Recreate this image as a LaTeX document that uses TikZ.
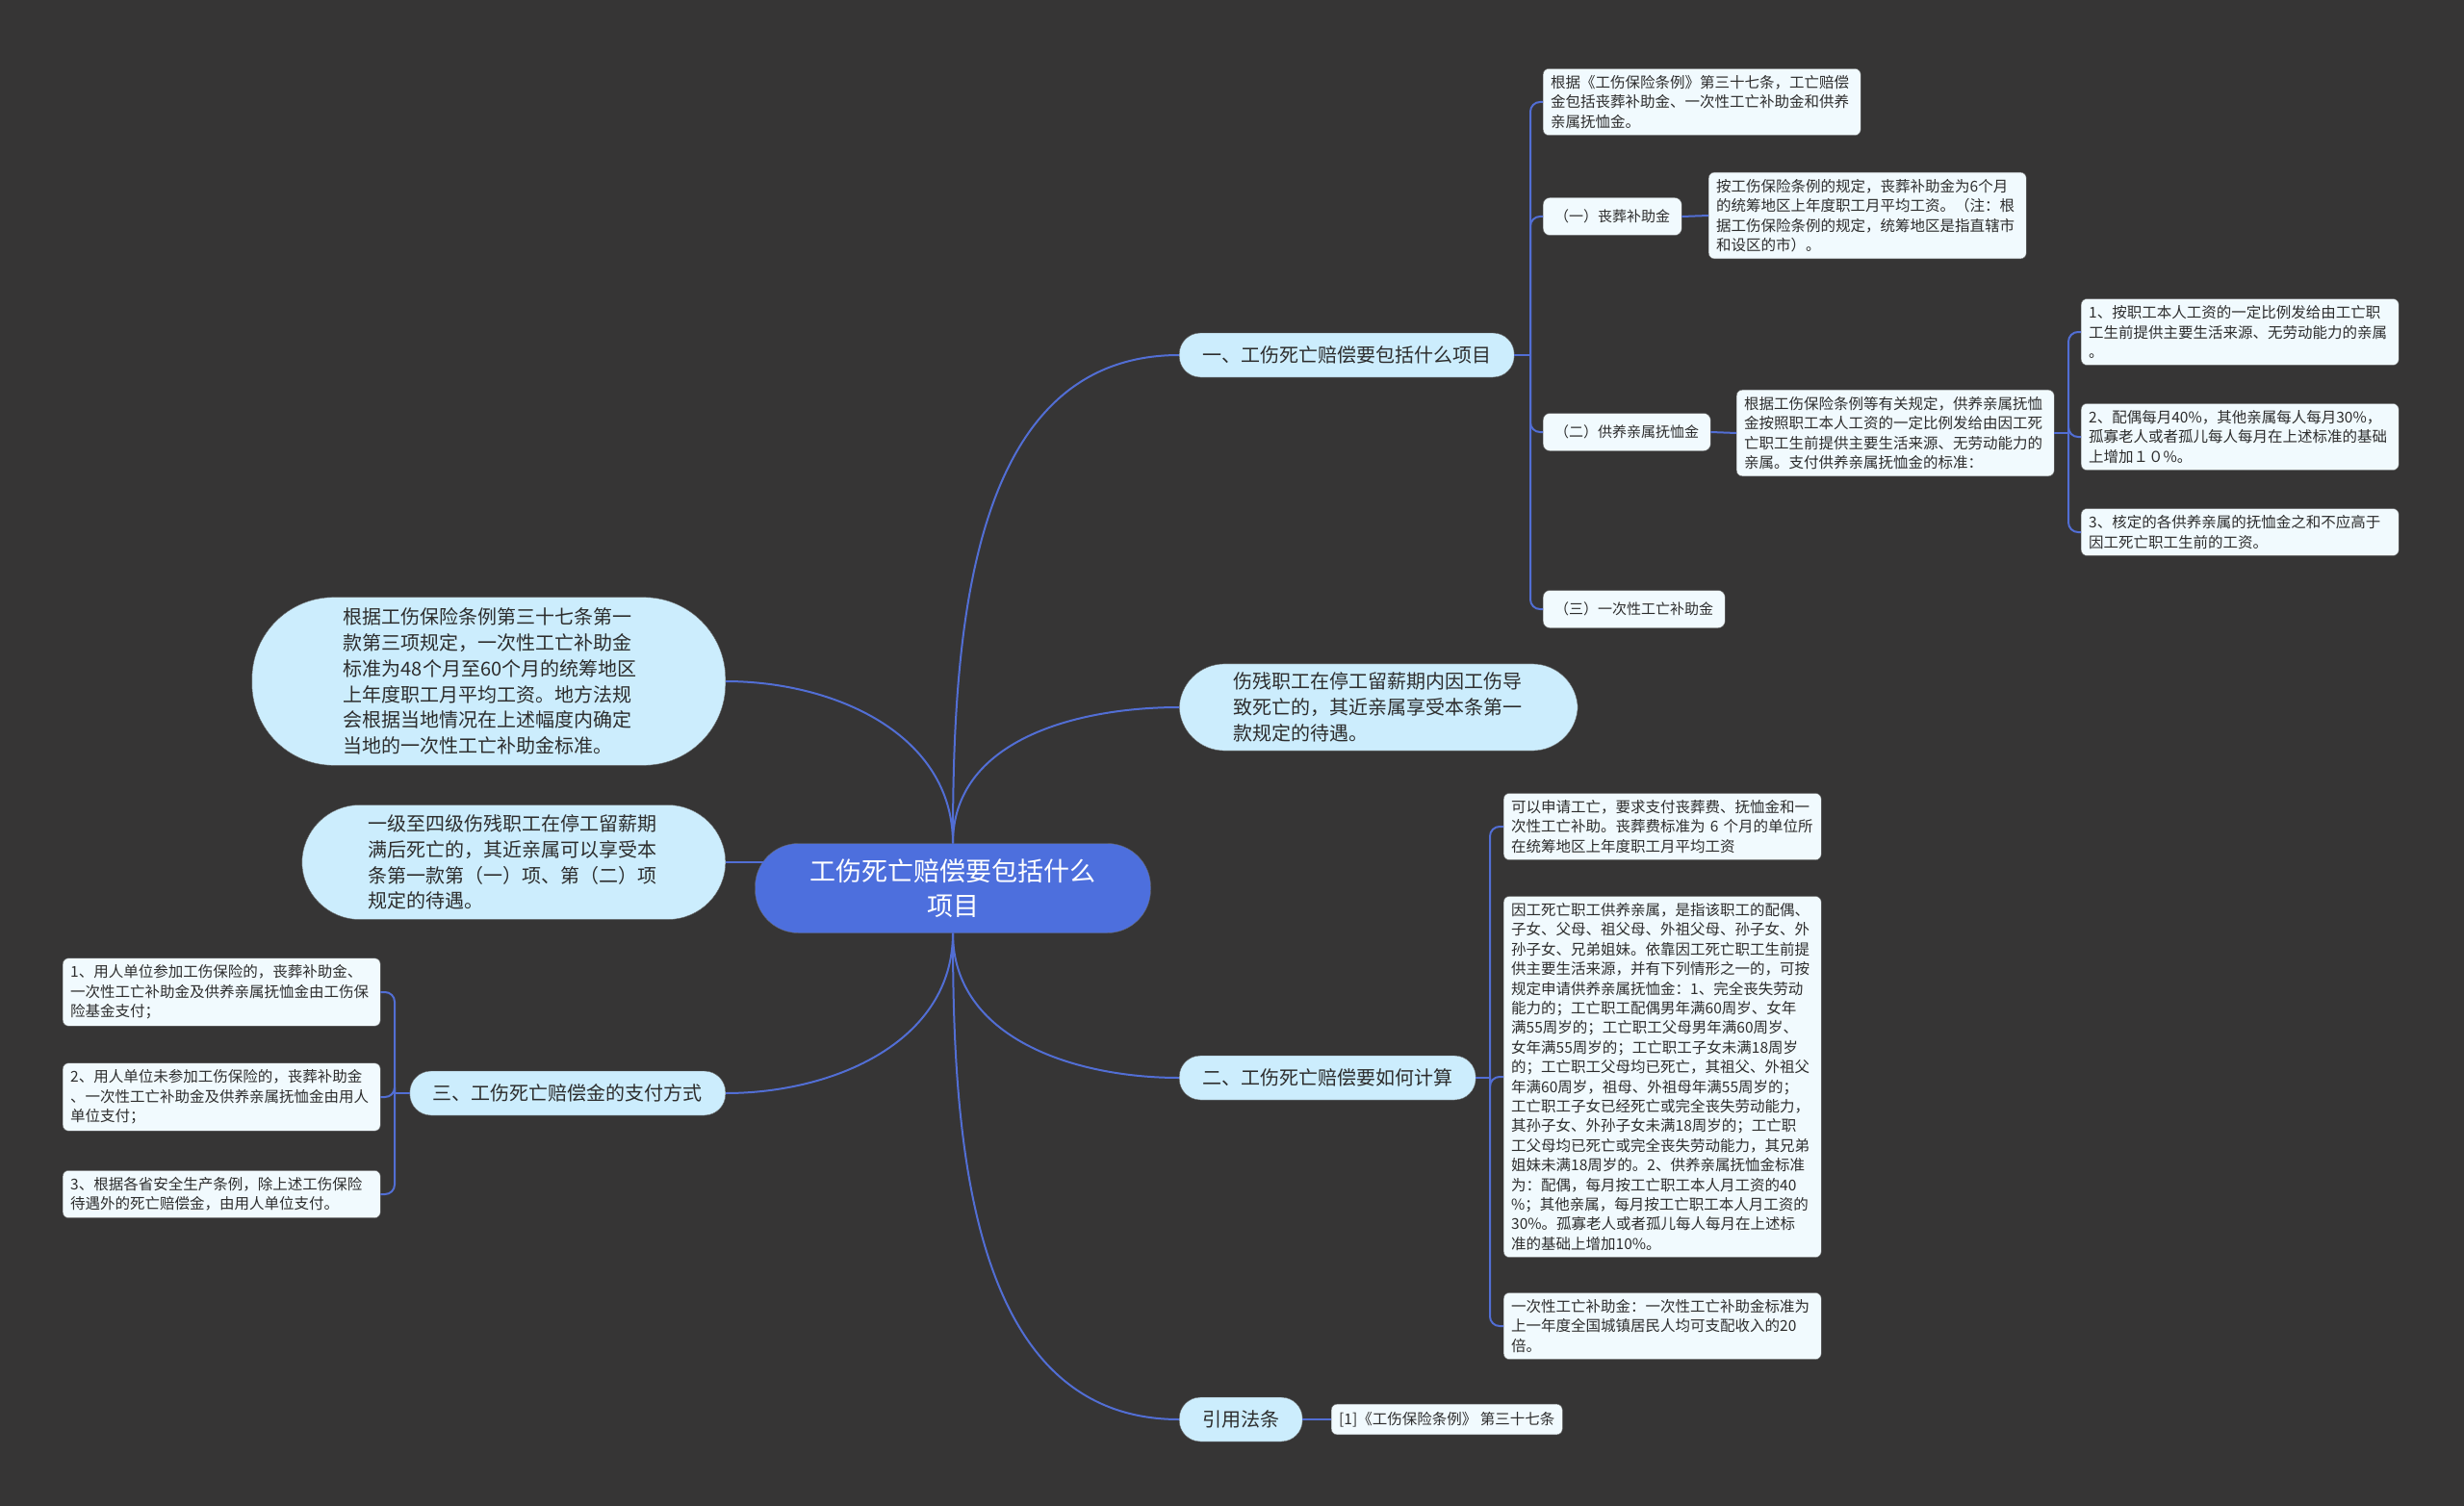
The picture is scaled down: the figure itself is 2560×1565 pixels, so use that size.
\documentclass[tikz,border=0pt]{standalone}
\usepackage{fontspec}
\setmainfont{Noto Sans CJK SC}
\usepackage{xcolor}
\usepackage{tikz}
\usetikzlibrary{positioning}

\definecolor{bgc}{RGB}{54,53,53}
\definecolor{rootc}{RGB}{77,111,221}
\definecolor{branchc}{RGB}{204,237,253}
\definecolor{leafc}{RGB}{241,250,254}
\definecolor{linec}{RGB}{82,110,212}
\definecolor{txtc}{RGB}{45,45,45}

\begin{document}
\begin{tikzpicture}[
    x=1pt, y=1pt,
    root/.style={rectangle, rounded corners=45pt, fill=rootc, draw=black!60, text=white, align=center, minimum width=411pt, minimum height=93pt, font=\fontsize{27}{36}\selectfont},
    branch/.style={rectangle, rounded corners=22pt, fill=branchc, draw=black!60, text=txtc, minimum height=46pt, inner xsep=24pt, font=\fontsize{20}{27}\selectfont},
    bubble/.style={rectangle, fill=branchc, draw=black!60, text=txtc, align=left, font=\fontsize{20}{26.8}\selectfont},
    sub/.style={rectangle, rounded corners=7pt, fill=leafc, draw=black!60, text=txtc, minimum height=39pt, inner xsep=12pt, font=\fontsize{15}{20}\selectfont},
    leaf/.style={rectangle, rounded corners=6pt, fill=leafc, draw=black!60, text=txtc, text width=314pt, align=left, inner xsep=8pt, inner ysep=7pt, font=\fontsize{15.5}{20.4}\selectfont},
    link/.style={draw=linec, line width=2pt},
    bracket/.style={draw=linec, line width=2pt, rounded corners=10pt}
]

% Background
\fill[bgc] (0,0) rectangle (2560,-1565);
\useasboundingbox (0,0) rectangle (2560,-1565);

% Root
\node[root] (root) at (990,-923) {工伤死亡赔偿要包括什么\\项目};

% Right branches
\node[branch, anchor=west] (items) at (1225,-369) {一、工伤死亡赔偿要包括什么项目};
\node[bubble, anchor=west, rounded corners=47pt, text width=302pt, inner xsep=56pt, inner ysep=9pt] (disab) at (1225,-735) {伤残职工在停工留薪期内因工伤导\\致死亡的，其近亲属享受本条第一\\款规定的待遇。};
\node[branch, anchor=west] (calc) at (1225,-1120) {二、工伤死亡赔偿要如何计算};
\node[branch, anchor=west] (law) at (1225,-1475) {引用法条};

% Left branches
\node[bubble, anchor=east, rounded corners=85pt, text width=302pt, inner xsep=95pt, inner ysep=11pt] (lump) at (754,-708) {根据工伤保险条例第三十七条第一\\款第三项规定，一次性工亡补助金\\标准为48个月至60个月的统筹地区\\上年度职工月平均工资。地方法规\\会根据当地情况在上述幅度内确定\\当地的一次性工亡补助金标准。};
\node[bubble, anchor=east, rounded corners=60pt, text width=302pt, inner xsep=69pt, inner ysep=10pt] (grade) at (754,-896) {一级至四级伤残职工在停工留薪期\\满后死亡的，其近亲属可以享受本\\条第一款第（一）项、第（二）项\\规定的待遇。};
\node[branch, anchor=east] (pay) at (754,-1136) {三、工伤死亡赔偿金的支付方式};

% Items: children
\node[leaf, anchor=west] (i0) at (1603,-106) {根据《工伤保险条例》第三十七条，工亡赔偿\\金包括丧葬补助金、一次性工亡补助金和供养\\亲属抚恤金。};
\node[sub, anchor=west] (i1) at (1603,-225) {（一）丧葬补助金};
\node[leaf, anchor=west] (i1a) at (1775,-224) {按工伤保险条例的规定，丧葬补助金为6个月\\的统筹地区上年度职工月平均工资。（注：根\\据工伤保险条例的规定，统筹地区是指直辖市\\和设区的市）。};
\node[sub, anchor=west] (i2) at (1603,-449) {（二）供养亲属抚恤金};
\node[leaf, anchor=west] (i2a) at (1804,-450) {根据工伤保险条例等有关规定，供养亲属抚恤\\金按照职工本人工资的一定比例发给由因工死\\亡职工生前提供主要生活来源、无劳动能力的\\亲属。支付供养亲属抚恤金的标准：};
\node[sub, anchor=west] (i3) at (1603,-633) {（三）一次性工亡补助金};

% Pension standards
\node[leaf, anchor=west] (s1) at (2162,-345) {1、按职工本人工资的一定比例发给由工亡职\\工生前提供主要生活来源、无劳动能力的亲属\\。};
\node[leaf, anchor=west] (s2) at (2162,-454) {2、配偶每月40\%，其他亲属每人每月30\%，\\孤寡老人或者孤儿每人每月在上述标准的基础\\上增加１０\%。};
\node[leaf, anchor=west] (s3) at (2162,-553) {3、核定的各供养亲属的抚恤金之和不应高于\\因工死亡职工生前的工资。};

% Calc: children
\node[leaf, anchor=west] (c1) at (1562,-859) {可以申请工亡，要求支付丧葬费、抚恤金和一\\次性工亡补助。丧葬费标准为 6 个月的单位所\\在统筹地区上年度职工月平均工资};
\node[leaf, anchor=west] (c2) at (1562,-1119) {因工死亡职工供养亲属，是指该职工的配偶、\\子女、父母、祖父母、外祖父母、孙子女、外\\孙子女、兄弟姐妹。依靠因工死亡职工生前提\\供主要生活来源，并有下列情形之一的，可按\\规定申请供养亲属抚恤金：1、完全丧失劳动\\能力的；工亡职工配偶男年满60周岁、女年\\满55周岁的；工亡职工父母男年满60周岁、\\女年满55周岁的；工亡职工子女未满18周岁\\的；工亡职工父母均已死亡，其祖父、外祖父\\年满60周岁，祖母、外祖母年满55周岁的；\\工亡职工子女已经死亡或完全丧失劳动能力，\\其孙子女、外孙子女未满18周岁的；工亡职\\工父母均已死亡或完全丧失劳动能力，其兄弟\\姐妹未满18周岁的。2、供养亲属抚恤金标准\\为：配偶，每月按工亡职工本人月工资的40\\\%；其他亲属，每月按工亡职工本人月工资的\\30\%。孤寡老人或者孤儿每人每月在上述标\\准的基础上增加10\%。};
\node[leaf, anchor=west] (c3) at (1562,-1378) {一次性工亡补助金：一次性工亡补助金标准为\\上一年度全国城镇居民人均可支配收入的20\\倍。};

% Law
\node[leaf, anchor=west, text width=, inner ysep=8pt] (l1) at (1383,-1475) {[1]《工伤保险条例》 第三十七条};

% Pay: children
\node[leaf, anchor=west] (p1) at (65,-1031) {1、用人单位参加工伤保险的，丧葬补助金、\\一次性工亡补助金及供养亲属抚恤金由工伤保\\险基金支付；};
\node[leaf, anchor=west] (p2) at (65,-1140) {2、用人单位未参加工伤保险的，丧葬补助金\\、一次性工亡补助金及供养亲属抚恤金由用人\\单位支付；};
\node[leaf, anchor=west] (p3) at (65,-1241) {3、根据各省安全生产条例，除上述工伤保险\\待遇外的死亡赔偿金，由用人单位支付。};

% Root links
\draw[link] (root.north) to[out=90, in=180] (items.west);
\draw[link] (root.north) to[out=90, in=180] (disab.west);
\draw[link] (root.north) to[out=90, in=0] (lump.east);
\draw[link] (grade.east) -- ([xshift=9pt]grade.east -| root.west);
\draw[link] (root.south) to[out=-90, in=0] (pay.east);
\draw[link] (root.south) to[out=-90, in=180] (calc.west);
\draw[link] (root.south) to[out=-90, in=180] (law.west);

% Brackets
\coordinate (ib) at (1590,-369);
\draw[link] (items.east) -- (ib);
\foreach \n in {i0,i1,i2,i3} \draw[bracket] (ib) |- (\n.west);
\draw[link] (i1.east) -- (i1a.west);
\draw[link] (i2.east) -- (i2a.west);
\coordinate (sb) at (2149,-450);
\draw[link] (i2a.east) -- (sb);
\foreach \n in {s1,s2,s3} \draw[bracket] (sb) |- (\n.west);
\coordinate (cb) at (1548,-1120);
\draw[link] (calc.east) -- (cb);
\foreach \n in {c1,c2,c3} \draw[bracket] (cb) |- (\n.west);
\draw[link] (law.east) -- (l1.west);
\coordinate (pb) at (410,-1136);
\draw[link] (pay.west) -- (pb);
\foreach \n in {p1,p2,p3} \draw[bracket] (pb) |- (\n.east);

\end{tikzpicture}
\end{document}
